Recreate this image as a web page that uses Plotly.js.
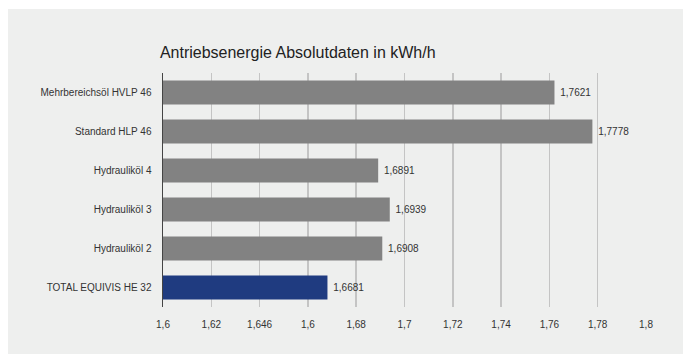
<!DOCTYPE html>
<html>
<head>
<meta charset="utf-8">
<script src="https://cdn.plot.ly/plotly-3.0.1.min.js"></script>
<style>
  html, body { margin: 0; padding: 0; background: #ffffff; width: 683px; height: 354px; overflow: hidden; }
  #chart { position: absolute; left: 8px; top: 9px; width: 675px; height: 345px; }
</style>
</head>
<body>
<div id="chart"></div>
<script>
// Data (top-to-bottom as shown)
const categories = ["Mehrbereichsöl HVLP 46", "Standard HLP 46", "Hydrauliköl 4", "Hydrauliköl 3", "Hydrauliköl 2", "TOTAL EQUIVIS HE 32"];
const values = [1.7621, 1.7778, 1.6891, 1.6939, 1.6908, 1.6681];
const highlight = "TOTAL EQUIVIS HE 32";
const tickValues = [1.6, 1.62, 1.64, 1.66, 1.68, 1.7, 1.72, 1.74, 1.76, 1.78, 1.8];
const tickLabels = ["1,6", "1,62", "1,646", "1,6", "1,68", "1,7", "1,72", "1,74", "1,76", "1,78", "1,8"];
const chartTitle = "Antriebsenergie Absolutdaten in kWh/h";

const barColors = categories.map(c => c === highlight ? "#1f3b80" : "#828282");

const trace = {
  type: "bar",
  orientation: "h",
  y: categories,
  x: values,
  marker: { color: barColors, line: { width: 0 } },
  text: values.map(v => "&nbsp;" + v.toFixed(4).replace(".", ",")),
  textposition: "outside",
  textfont: { family: "Liberation Sans, Arial, sans-serif", size: 10, color: "#333333" },
  cliponaxis: false,
  hoverinfo: "none"
};

const layout = {
  width: 675,
  height: 345,
  margin: { l: 155, r: 37, t: 64, b: 47 },
  paper_bgcolor: "#eeefee",
  plot_bgcolor: "rgba(0,0,0,0)",
  showlegend: false,
  bargap: 0.38,
  font: { family: "Liberation Sans, Arial, sans-serif", size: 10, color: "#333333" },
  title: {
    text: chartTitle,
    font: { family: "Liberation Sans, Arial, sans-serif", size: 16, color: "#222222" },
    xref: "container", x: 0.225, xanchor: "left",
    yref: "container", y: 0.875, yanchor: "middle"
  },
  xaxis: {
    range: [1.6, 1.8],
    tickvals: tickValues,
    ticktext: tickLabels,
    showgrid: true,
    gridcolor: "#c4c4c4",
    gridwidth: 1.5,
    zeroline: false,
    showline: false,
    ticks: "outside",
    ticklen: 8,
    tickcolor: "rgba(0,0,0,0)",
    tickfont: { size: 10, color: "#333333" },
    fixedrange: true
  },
  yaxis: {
    type: "category",
    autorange: "reversed",
    showgrid: false,
    zeroline: false,
    showline: true,
    linecolor: "#444444",
    linewidth: 1.5,
    ticks: "outside",
    ticklen: 8,
    tickcolor: "rgba(0,0,0,0)",
    tickfont: { size: 10, color: "#333333" },
    fixedrange: true
  }
};

Plotly.newPlot("chart", [trace], layout, { displayModeBar: false, staticPlot: true });
</script>
</body>
</html>
